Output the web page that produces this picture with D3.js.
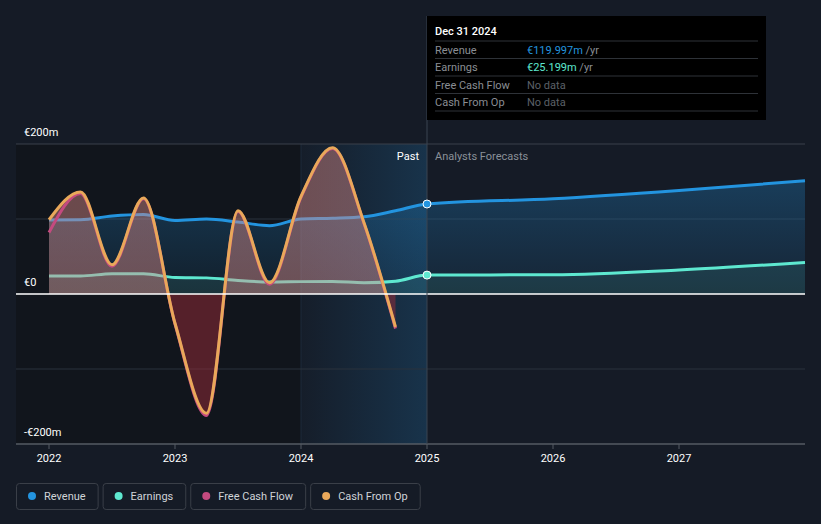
<!DOCTYPE html>
<html><head><meta charset="utf-8">
<script src="https://cdn.jsdelivr.net/npm/d3@7/dist/d3.min.js"></script>
<style>
html,body{margin:0;padding:0;background:#151b26;}
svg{display:block;font-family:Roboto,"Open Sans",sans-serif;}
</style></head><body>
<svg id="c" width="821" height="524"></svg>
<script>
// ---- data ----
const pastDates = [2022.0,2022.25,2022.5,2022.75,2023.0,2023.25,2023.5,2023.75,2024.0,2024.25,2024.5,2024.75,2025.0];
const revenuePast = [98.7,99,104,106,98,100,96,91,100,101,103,111,120];
const earningsPast = [24,24,27,27,22,21.5,18,16,16.5,16.7,15,17,25.2];
const forecastDates = [2025.0,2026.0,2027.0,2028.0];
const revenueForecast = [120,127,138,151];
const earningsForecast = [25.2,25.7,32,42];
const cashDates = [2022.0,2022.25,2022.5,2022.75,2023.0,2023.25,2023.5,2023.75,2024.0,2024.25,2024.5,2024.75];
const fcfValues = [82,134,37,127,-40,-162,110,13,129,194,94,-46];
const cfoValues = [99,136,39,128,-39,-159,111,15,130,195,95,-44];
const yTicks = [200,0,-200];
const yTickLabels = ["€200m","€0","-€200m"];
const xTicks = [2022,2023,2024,2025,2026,2027];
const legendItems = ["Revenue","Earnings","Free Cash Flow","Cash From Op"];
const tooltipRows = [["Revenue","€119.997m"," /yr"],["Earnings","€25.199m"," /yr"],["Free Cash Flow","No data",""],["Cash From Op","No data",""]];

const colors = {rev:"#2394df", earn:"#5ee8d0", fcf:"#c44a7f", cfo:"#e9a85a"};

const svg = d3.select("#c");
const x = d3.scaleLinear().domain([2022,2028]).range([49,805]);
const y = d3.scaleLinear().domain([-200,200]).range([444,144]);
const X0 = 16, X1 = 805;

const defs = svg.append("defs");
const hg = defs.append("linearGradient").attr("id","hl").attr("x1","0").attr("x2","1").attr("y1","0").attr("y2","0");
hg.append("stop").attr("offset","0").attr("stop-color","#2394df").attr("stop-opacity",0.02);
hg.append("stop").attr("offset","1").attr("stop-color","#2394df").attr("stop-opacity",0.2);
const rg = defs.append("linearGradient").attr("id","revg").attr("gradientUnits","userSpaceOnUse")
  .attr("x1",0).attr("x2",0).attr("y1",y(150)).attr("y2",y(0));
rg.append("stop").attr("offset","0").attr("stop-color","#2394df").attr("stop-opacity",0.28);
rg.append("stop").attr("offset","1").attr("stop-color","#2394df").attr("stop-opacity",0.08);
const fg = defs.append("linearGradient").attr("id","fcfg").attr("gradientUnits","userSpaceOnUse")
  .attr("x1",0).attr("x2",0).attr("y1",y(200)).attr("y2",y(-200));
[[0,"#d98a87",0.45],[0.5,"#d98a87",0.45],[0.5,"#992b38",0.5],[1,"#992b38",0.5]].forEach(s=>{
  fg.append("stop").attr("offset",s[0]).attr("stop-color",s[1]).attr("stop-opacity",s[2]);
});

// past dark region
svg.append("rect").attr("x",X0).attr("y",y(200)).attr("width",x(2024)-X0).attr("height",y(-200)-y(200)).attr("fill","#11151c");
// highlight
svg.append("rect").attr("x",x(2024)).attr("y",y(200)).attr("width",x(2025)-x(2024)).attr("height",y(-200)-y(200)).attr("fill","url(#hl)");
svg.append("line").attr("x1",x(2024)).attr("x2",x(2024)).attr("y1",y(200)).attr("y2",y(-200)).attr("stroke","#1c2a3a").attr("stroke-width",1);

// gridlines
[200,100,-100].forEach(v=>{
  svg.append("line").attr("x1",X0).attr("x2",X1).attr("y1",y(v)).attr("y2",y(v)).attr("stroke",v===200?"#3a404a":"#2b323c").attr("stroke-width",1);
});

const revAll = pastDates.map((d,i)=>[d,revenuePast[i]]).concat(forecastDates.slice(1).map((d,i)=>[d,revenueForecast[i+1]]));
const earnAll = pastDates.map((d,i)=>[d,earningsPast[i]]).concat(forecastDates.slice(1).map((d,i)=>[d,earningsForecast[i+1]]));
const curve = d3.curveMonotoneX;
const area = d3.area().x(d=>x(d[0])).y0(y(0)).y1(d=>y(d[1])).curve(curve);
const line = d3.line().x(d=>x(d[0])).y(d=>y(d[1])).curve(curve);

svg.append("path").attr("d",area(revAll)).attr("fill","url(#revg)");
svg.append("path").attr("d",area(earnAll)).attr("fill","#5ee8d0").attr("fill-opacity",0.1);

const fcf = cashDates.map((d,i)=>[d,fcfValues[i]]);
const cfo = cashDates.map((d,i)=>[d,cfoValues[i]]);

svg.append("path").attr("d",line(revAll)).attr("fill","none").attr("stroke",colors.rev).attr("stroke-width",3);
svg.append("path").attr("d",line(earnAll)).attr("fill","none").attr("stroke",colors.earn).attr("stroke-width",3);

svg.append("path").attr("d",area(cfo)).attr("fill","url(#fcfg)");
svg.append("path").attr("d",line(fcf)).attr("fill","none").attr("stroke",colors.fcf).attr("stroke-width",3);
svg.append("path").attr("d",line(cfo)).attr("fill","none").attr("stroke",colors.cfo).attr("stroke-width",3);

// zero line
svg.append("line").attr("x1",X0).attr("x2",X1).attr("y1",y(0)).attr("y2",y(0)).attr("stroke","#ffffff").attr("stroke-width",1.5);

// x axis
const xa = svg.append("g").attr("transform",`translate(0,${y(-200)})`);
xa.append("line").attr("x1",X0).attr("x2",X1).attr("stroke","#555b63").attr("stroke-width",1.5);
xTicks.forEach(t=>{
  xa.append("line").attr("x1",x(t)).attr("x2",x(t)).attr("y1",0).attr("y2",5).attr("stroke","#555b63");
  xa.append("text").attr("x",x(t)).attr("y",18).attr("text-anchor","middle").attr("fill","#ffffff").attr("font-size",11).text(t);
});

// y labels
yTicks.forEach((v,i)=>{
  svg.append("text").attr("x",24).attr("y",y(v)-8).attr("fill","#ffffff").attr("font-size",11).text(yTickLabels[i]);
});

// vertical marker line
svg.append("line").attr("x1",x(2025)).attr("x2",x(2025)).attr("y1",16).attr("y2",y(-200)).attr("stroke","#3a4450").attr("stroke-width",1);

// Past / Forecast labels
svg.append("text").attr("x",x(2025)-8).attr("y",160).attr("text-anchor","end").attr("fill","#ffffff").attr("font-size",11).text("Past");
svg.append("text").attr("x",x(2025)+8).attr("y",160).attr("fill","#8a9098").attr("font-size",11).text("Analysts Forecasts");

// dots
svg.append("circle").attr("cx",x(2025)).attr("cy",y(revenuePast[12])).attr("r",4).attr("fill",colors.rev).attr("stroke","#ffffff").attr("stroke-width",1);
svg.append("circle").attr("cx",x(2025)).attr("cy",y(earningsPast[12])).attr("r",4).attr("fill",colors.earn).attr("stroke","#ffffff").attr("stroke-width",1);

// tooltip
const tt = svg.append("g").attr("transform","translate(427,16)");
tt.append("rect").attr("width",339).attr("height",104).attr("fill","#000000");
tt.append("text").attr("x",8).attr("y",19).attr("fill","#ffffff").attr("font-size",11).attr("font-weight",500).text("Dec 31 2024");
const rowColors = [colors.rev, colors.earn, "#5c6068", "#5c6068"];
tooltipRows.forEach((r,i)=>{
  const ry = 25 + i*17.5;
  tt.append("line").attr("x1",8).attr("x2",331).attr("y1",ry).attr("y2",ry).attr("stroke","#2e3238");
  const t = tt.append("text").attr("x",8).attr("y",ry+12.5).attr("font-size",11);
  t.append("tspan").attr("fill","#8a8e94").text(r[0]);
  const v = tt.append("text").attr("x",100).attr("y",ry+12.5).attr("font-size",11);
  v.append("tspan").attr("fill",rowColors[i]).text(r[1]);
  v.append("tspan").attr("fill","#8a8e94").text(r[2]);
});
tt.append("line").attr("x1",8).attr("x2",331).attr("y1",25+4*17.5).attr("y2",25+4*17.5).attr("stroke","#2e3238");

// legend
const legColors = [colors.rev, colors.earn, colors.fcf, colors.cfo];
let lx = 16;
const lg = svg.append("g");
legendItems.forEach((name,i)=>{
  const g = lg.append("g").attr("transform",`translate(${lx},483)`);
  const txt = g.append("text").attr("x",28).attr("y",17).attr("fill","#d0d3d8").attr("font-size",11).text(name);
  const w = txt.node().getComputedTextLength() + 40;
  g.insert("rect","text").attr("x",0.5).attr("y",0.5).attr("width",w).attr("height",26).attr("rx",3).attr("fill","none").attr("stroke","#3a3f48");
  g.append("circle").attr("cx",16).attr("cy",13).attr("r",4).attr("fill",legColors[i]);
  lx += w + 5;
});
</script>
</body></html>
